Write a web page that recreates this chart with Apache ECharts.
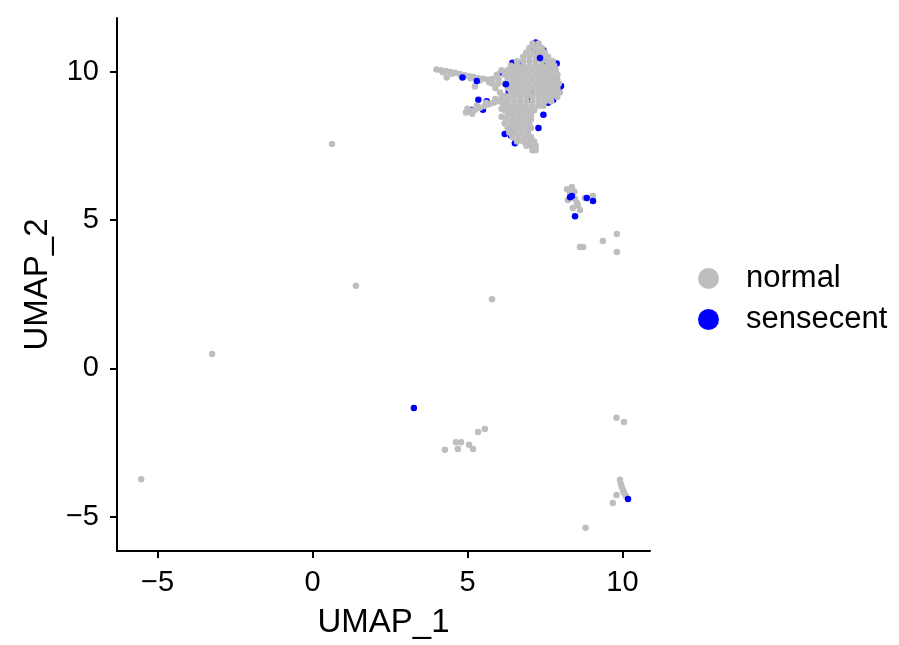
<!DOCTYPE html>
<html>
<head>
<meta charset="utf-8">
<script src="https://cdn.jsdelivr.net/npm/echarts@6/dist/echarts.min.js"></script>
<style>html,body{margin:0;padding:0;background:#fff}#c{width:899px;height:645px}</style>
</head>
<body>
<div id="c"></div>
<script>
// ---- data ----
const categories = ['normal', 'sensecent'];
const xTicks = [-5, 0, 5, 10];
const yTicks = [-5, 0, 5, 10];

// grey "normal" cells
const normalMain = [
 [7.1,10.95],[7.3,10.95],
 [7.0,10.8],[7.2,10.8],[7.4,10.8],
 [6.9,10.65],[7.1,10.65],[7.3,10.65],[7.5,10.65],
 [6.8,10.5],[7.0,10.5],[7.2,10.5],[7.4,10.5],[7.6,10.5],
 [6.6,10.35],[6.8,10.35],[7.0,10.35],[7.2,10.35],[7.4,10.35],[7.6,10.35],[7.75,10.35],
 [6.4,10.2],[6.6,10.2],[6.8,10.2],[7.0,10.2],[7.2,10.2],[7.4,10.2],[7.6,10.2],[7.8,10.2],
 [6.1,10.05],[6.3,10.05],[6.5,10.05],[6.7,10.05],[6.9,10.05],[7.1,10.05],[7.3,10.05],[7.5,10.05],[7.7,10.05],[7.85,10.05],
 [5.95,9.9],[6.2,9.9],[6.4,9.9],[6.6,9.9],[6.8,9.9],[7.0,9.9],[7.2,9.9],[7.4,9.9],[7.6,9.9],[7.8,9.9],[7.9,9.9],
 [5.8,9.75],[6.0,9.75],[6.3,9.75],[6.5,9.75],[6.7,9.75],[6.9,9.75],[7.1,9.75],[7.3,9.75],[7.5,9.75],[7.7,9.75],[7.9,9.75],
 [5.8,9.6],[6.0,9.6],[6.2,9.6],[6.4,9.6],[6.6,9.6],[6.8,9.6],[7.0,9.6],[7.2,9.6],[7.4,9.6],[7.6,9.6],[7.8,9.6],[7.95,9.6],
 [5.9,9.45],[6.3,9.45],[6.5,9.45],[6.7,9.45],[6.9,9.45],[7.1,9.45],[7.3,9.45],[7.5,9.45],[7.7,9.45],[7.9,9.45],
 [6.4,9.3],[6.6,9.3],[6.8,9.3],[7.0,9.3],[7.2,9.3],[7.4,9.3],[7.6,9.3],[7.8,9.3],[7.98,9.3],
 [6.5,9.15],[6.7,9.15],[6.9,9.15],[7.1,9.15],[7.3,9.15],[7.5,9.15],[7.7,9.15],[7.9,9.15],
 [6.3,9.0],[6.5,9.0],[6.7,9.0],[6.9,9.0],[7.1,9.0],[7.3,9.0],[7.5,9.0],[7.7,9.0],
 [6.3,8.85],[6.5,8.85],[6.7,8.85],[6.9,8.85],[7.1,8.85],[7.3,8.85],[7.45,8.85],
 [6.2,8.7],[6.4,8.7],[6.6,8.7],[6.8,8.7],[7.0,8.7],[7.15,8.7],
 [6.3,8.55],[6.5,8.55],[6.7,8.55],[6.9,8.55],[7.05,8.55],
 [6.1,8.48],[6.25,8.4],[6.45,8.4],[6.65,8.4],[6.85,8.4],[7.05,8.4],
 [6.2,8.25],[6.4,8.25],[6.6,8.25],[6.8,8.25],[7.0,8.25],
 [6.3,8.1],[6.5,8.1],[6.7,8.1],[6.9,8.1],[7.05,8.1],
 [6.35,7.95],[6.55,7.95],[6.75,7.95],[6.95,7.95],
 [6.45,7.8],[6.65,7.8],[6.85,7.8],[7.05,7.8],
 [6.6,7.65],[6.8,7.65],[7.0,7.65],[7.15,7.65],
 [6.9,7.5],[7.05,7.5],[7.2,7.5],
 [7.1,7.35],[7.2,7.35],
 [6.2,9.18],[6.3,9.12],[6.15,8.9],[6.05,9.3],[6.1,8.75]
];
const normalUpperArm = [
 [4.0,10.07],[4.15,10.05],[4.3,10.02],[4.45,9.99],[4.6,9.96],[4.75,9.92],[4.9,9.88],
 [5.05,9.85],[5.2,9.82],[5.35,9.78],[5.5,9.76],[5.65,9.74],[5.8,9.7],
 [4.2,9.98],[4.5,9.93],[4.8,9.85],[5.1,9.78],[5.4,9.7],[5.7,9.64],[4.33,9.8],[5.24,9.5]
];
const normalLowerArm = [
 [4.95,8.62],[5.1,8.68],[5.25,8.72],[5.4,8.78],[5.55,8.84],[5.7,8.9],[5.85,8.95],[6.0,9.0],
 [6.15,9.02],[5.0,8.75],[5.3,8.85],[5.6,8.95],[5.9,9.08],[6.1,9.12],[5.15,8.58]
];
const normalSmallClusters = [
 [8.21,6.04],[8.37,6.11],[8.31,5.91],[8.47,5.71],[8.56,5.5],[8.4,5.4],[8.63,5.34],
 [8.53,5.57],[8.24,5.67],[9.05,5.81],[8.79,5.74],[8.45,5.95],
 [8.63,4.09],[8.73,4.09],[9.37,4.29],[9.82,4.53],[9.82,3.92],
 [9.81,-1.67],[10.05,-1.81],
 [9.92,-3.76],[9.95,-3.9],[9.98,-4.0],[10.02,-4.1],[10.05,-4.2],[10.11,-4.3],
 [9.81,-4.27],[9.69,-4.54],[8.81,-5.38],
 [4.27,-2.75],[4.63,-2.49],[4.69,-2.72],[4.79,-2.49],[5.05,-2.58],[5.18,-2.72],[5.34,-2.15],[5.56,-2.05],
 [-5.53,-3.74],[-3.24,0.48],[0.63,7.56],[1.4,2.78],[5.79,2.33]
];

// blue "sensecent" cells, partly hidden below the grey ones
const senescentUnder = [
 [6.1,9.97],[6.77,10.29],[7.55,10.32],[7.69,10.12],[7.77,9.05],[7.07,9.31],
 [6.69,8.83],[6.37,8.07],[6.53,7.59],[7.88,9.73],[7.45,8.55],[5.35,9.05],
 [5.62,9.0],[5.13,8.71],[5.5,8.72],[7.29,8.1],[7.2,10.98],[7.95,9.4],[6.33,9.35],
 [7.18,10.72],[7.45,10.72],[6.4,7.85],[8.02,9.52],[7.88,10.28],[6.45,10.3],
 [7.6,8.95],[6.2,7.9],[7.0,9.05]
];
// blue cells drawn on top
const senescentOver = [
 [4.84,9.8],[5.3,9.69],[6.24,9.58],[7.34,10.46],
 [8.37,5.81],[8.47,5.13],[8.85,5.74],[9.05,5.64],[8.31,5.77],
 [3.27,-1.34],[10.18,-4.41]
];

const chart = echarts.init(document.getElementById('c'), null, {renderer: 'canvas'});
const FONT = 'Liberation Sans, Arial, sans-serif';
const GREY = '#BEBEBE', BLUE = '#0000FF';
const fmt = v => (v < 0 ? '\u2212' + Math.abs(v) : String(v));

chart.setOption({
  animation: false,
  backgroundColor: '#ffffff',
  grid: {left: 117, right: 249, top: 18, bottom: 94, containLabel: false},
  legend: {
    data: categories,
    orient: 'vertical',
    left: 693, top: 258,
    icon: 'circle',
    itemWidth: 21, itemHeight: 21, itemGap: 10,
    textStyle: {fontFamily: FONT, fontSize: 31, color: '#000', padding: [0, 0, 0, 22]}
  },
  xAxis: {
    type: 'value', min: -6.31, max: 10.89,
    name: 'UMAP_1', nameLocation: 'middle', nameGap: 55,
    nameTextStyle: {fontFamily: FONT, fontSize: 33, color: '#000'},
    axisLine: {show: true, onZero: false, lineStyle: {color: '#000', width: 2}},
    axisTick: {show: true, length: 7, lineStyle: {color: '#000', width: 2}, customValues: xTicks},
    axisLabel: {fontFamily: FONT, fontSize: 29, color: '#000', margin: 17, customValues: xTicks, formatter: fmt},
    splitLine: {show: false}
  },
  yAxis: {
    type: 'value', min: -6.16, max: 11.81,
    name: 'UMAP_2', nameLocation: 'middle', nameGap: 63, nameRotate: 90,
    nameTextStyle: {fontFamily: FONT, fontSize: 33, color: '#000'},
    axisLine: {show: true, onZero: false, lineStyle: {color: '#000', width: 2}},
    axisTick: {show: true, length: 7, lineStyle: {color: '#000', width: 2}, customValues: yTicks},
    axisLabel: {fontFamily: FONT, fontSize: 29, color: '#000', margin: 18, customValues: yTicks, formatter: fmt},
    splitLine: {show: false}
  },
  series: [
    {name: 'sensecent', type: 'scatter', symbolSize: 6.5, itemStyle: {color: BLUE, opacity: 1},
     data: senescentUnder, z: 1},
    {name: 'normal', type: 'scatter', symbolSize: 6.5, itemStyle: {color: GREY, opacity: 1},
     data: normalMain.concat(normalUpperArm, normalLowerArm, normalSmallClusters), z: 2},
    {name: 'sensecent', type: 'scatter', symbolSize: 6.5, itemStyle: {color: BLUE, opacity: 1},
     data: senescentOver, z: 3}
  ]
});
</script>
</body>
</html>
